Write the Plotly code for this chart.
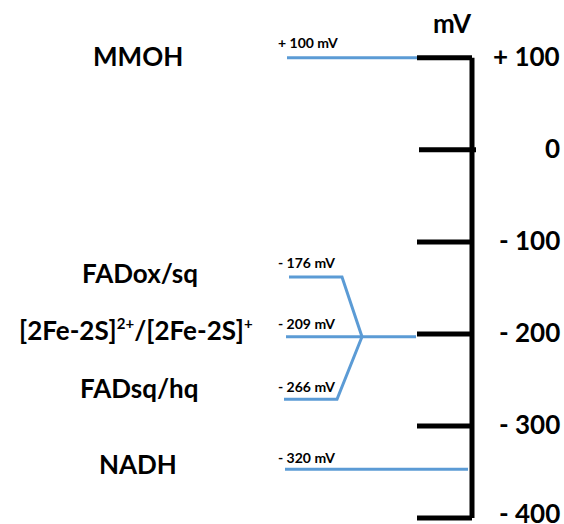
import plotly.graph_objects as go

# ---- data ----
species = ["MMOH", "FADox/sq",
           "[2Fe-2S]<sup><span style='font-size:15px'>2+</span></sup>/[2Fe-2S]<sup><span style='font-size:15px'>+</span></sup>",
           "FADsq/hq", "NADH"]
potential_mv = [100, -176, -209, -266, -320]          # values written on the labels
drawn_level_mv = [100, -138, -203, -271, -347]        # level where each line is drawn (schematic)
tick_values = [100, 0, -100, -200, -300, -400]
tick_labels = ["+ 100", "0", "- 100", "- 200", "- 300", "- 400"]
axis_title = "mV"

BLUE = "#5B9BD5"
FONT = "Lato"
BIG = 26
SMALL = 14

fig = go.Figure()

# axis spine
AX_X = 472
fig.add_trace(go.Scatter(x=[AX_X, AX_X], y=[max(tick_values), min(tick_values)], mode="lines",
                         line=dict(color="black", width=5), hoverinfo="skip", showlegend=False))
# ticks
tx, ty = [], []
for v in tick_values:
    x0, x1 = (419, 476) if v == 0 else (417, AX_X)
    tx += [x0, x1, None]
    ty += [v, v, None]
fig.add_trace(go.Scatter(x=tx, y=ty, mode="lines", line=dict(color="black", width=5),
                         hoverinfo="skip", showlegend=False))

# blue level lines
junction_x = 362
junction_y = drawn_level_mv[2]
lines = [
    ([287, 417], [drawn_level_mv[0]] * 2),
    ([289, 342, junction_x], [drawn_level_mv[1], drawn_level_mv[1], junction_y]),
    ([286, junction_x, 416], [drawn_level_mv[2]] * 3),
    ([284, 337, junction_x], [drawn_level_mv[3], drawn_level_mv[3], junction_y]),
    ([285, 468], [drawn_level_mv[4]] * 2),
]
for xs, ys in lines:
    fig.add_trace(go.Scatter(x=xs, y=ys, mode="lines", line=dict(color=BLUE, width=3),
                             hoverinfo="skip", showlegend=False))

ann = []
# species labels
name_x = [138, 139.5, 135.5, 139.5, 137.5]
name_shift = [2, 4, 7, 11, 5]
for name, lvl, x, s in zip(species, drawn_level_mv, name_x, name_shift):
    ann.append(dict(x=x, y=lvl, text=f"<b>{name}</b>", showarrow=False, xanchor="center",
                    yanchor="middle", yshift=s, font=dict(family=FONT, size=BIG, color="black")))
# small mV labels
small_shift = [15, 14, 13, 13, 12]
for v, lvl, s in zip(potential_mv, drawn_level_mv, small_shift):
    sign = "+" if v > 0 else "-"
    ann.append(dict(x=276, y=lvl, text=f"<b>{sign} {abs(v)} mV</b>", showarrow=False,
                    xanchor="left", yanchor="middle", yshift=s,
                    font=dict(family=FONT, size=SMALL, color="black")))
# tick labels
for v, t in zip(tick_values, tick_labels):
    ann.append(dict(x=562, y=v, text=f"<b>{t}</b>", showarrow=False, xanchor="right",
                    yanchor="middle", yshift=5 if v == min(tick_values) else 2,
                    font=dict(family=FONT, size=BIG, color="black")))
# axis title
ann.append(dict(x=452, y=max(tick_values), text=f"<b>{axis_title}</b>", showarrow=False,
                xanchor="center", yanchor="middle", yshift=35,
                font=dict(family=FONT, size=BIG, color="black")))

fig.update_layout(
    width=564, height=524,
    margin=dict(l=0, r=0, t=0, b=0),
    paper_bgcolor="white", plot_bgcolor="white",
    xaxis=dict(range=[0, 564], visible=False, fixedrange=True),
    yaxis=dict(range=[-406.4, 162.8], visible=False, fixedrange=True),
    annotations=ann,
    showlegend=False,
)

fig.write_html(
    "out.html",
    config={"displayModeBar": False},
    post_script="document.body.style.margin='0';document.body.style.overflow='hidden';",
)
